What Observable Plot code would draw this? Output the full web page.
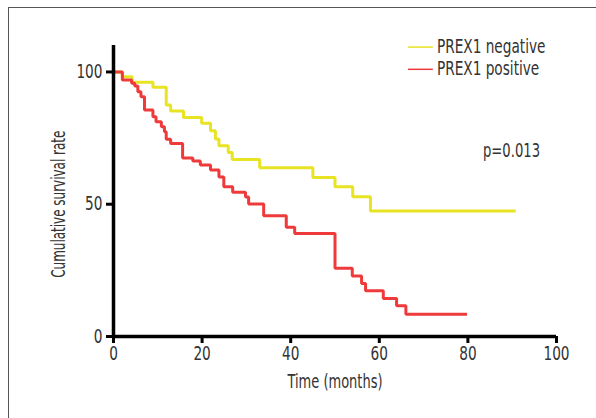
<!DOCTYPE html>
<html>
<head>
<meta charset="utf-8">
<script src="https://cdn.jsdelivr.net/npm/d3@7"></script>
<script src="https://cdn.jsdelivr.net/npm/@observablehq/plot@0.6"></script>
<style>
  html, body { margin: 0; padding: 0; background: #fff; }
  #wrap { position: relative; width: 596px; height: 418px; overflow: hidden; }
  #border { position: absolute; left: 8px; top: 7px; width: 700px; height: 600px;
            border-top: 1.5px solid #555; border-left: 1.5px solid #555; pointer-events: none; }
  svg { font-family: "Liberation Sans Narrow", "DejaVu Sans Condensed", "Roboto Condensed", sans-serif; font-stretch: condensed; }
</style>
</head>
<body>
<div id="wrap"><div id="border"></div></div>
<script>
// ---- data ----
const seriesNames = ["PREX1 negative", "PREX1 positive"];
const seriesColors = ["#e8e323", "#ee3a3a"];

const negTime = [0, 2, 4.2, 8.9, 11.9, 12.9, 15.8, 19.9, 21.9, 23.0, 23.8, 25.9, 26.8, 33.0, 45.0, 50.0, 54.0, 58.0, 90.8];
const negSurv = [100, 98.2, 96.1, 94.2, 87.5, 85.2, 82.8, 80.6, 77.8, 74.7, 72.1, 69.6, 66.9, 63.8, 60.1, 56.6, 52.8, 47.4, 47.4];

const posTime = [0, 2, 4.1, 4.8, 5.5, 6.2, 7.0, 8.9, 9.6, 10.8, 11.5, 11.9, 12.9, 15.6, 17.9, 19.6, 21.9, 23.8, 24.9, 26.9, 29.8, 30.5, 33.9, 39.0, 40.9, 50.0, 53.9, 56.0, 56.9, 60.9, 63.9, 66.0, 79.8];
const posSurv = [100, 97, 95.7, 94.7, 92.5, 90.6, 85.6, 83.1, 81.2, 79.3, 77.4, 74.6, 73.0, 67.5, 66.3, 64.8, 62.9, 60.3, 56.6, 54.5, 52.7, 50.1, 45.6, 41.3, 38.9, 25.8, 22.9, 20.0, 17.3, 14.4, 11.6, 8.4, 8.4];

const xTicks = [0, 20, 40, 60, 80, 100];
const yTicks = [0, 50, 100];
const pText = "p=0.013";
const xLabel = "Time (months)";
const yLabel = "Cumulative survival rate";

// ---- build table ----
const rows = [
  ...negTime.map((t, i) => ({series: seriesNames[0], t, s: negSurv[i]})),
  ...posTime.map((t, i) => ({series: seriesNames[1], t, s: posSurv[i]}))
];

// legend placement (data coordinates)
const legend = seriesNames.map((name, i) => ({name, color: seriesColors[i], y: [109.4, 101.0][i]}));

const FS = 19;
const chart = Plot.plot({
  width: 596,
  height: 418,
  marginLeft: 113,
  marginRight: 40,
  marginTop: 45,
  marginBottom: 82,
  style: {fontSize: FS + "px", color: "#333", background: "transparent"},
  x: {domain: [0, 100]},
  y: {domain: [0, 110]},
  marks: [
    Plot.axisX({ticks: xTicks, tickSize: 7, tickPadding: 3, strokeWidth: 3, stroke: "#000", fill: "#333", fontSize: FS,
                label: null, className: "cond80"}),
    Plot.axisY({ticks: yTicks, tickSize: 7, tickPadding: 4, strokeWidth: 3, stroke: "#000", fill: "#333", fontSize: FS,
                label: null, className: "cond80"}),
    Plot.line(rows, {x: "t", y: "s", z: "series", stroke: d => seriesColors[seriesNames.indexOf(d.series)],
                     curve: "step-after", strokeWidth: 3, strokeLinejoin: "miter", strokeLinecap: "butt"}),
    Plot.ruleY([0], {stroke: "#000", strokeWidth: 3.5}),
    Plot.ruleX([0], {stroke: "#000", strokeWidth: 3.5}),
    Plot.ruleY(legend, {y: "y", x1: 66.6, x2: 72.2, stroke: "color", strokeWidth: 1.5}),
    Plot.text(legend, {y: "y", x: 73.0, text: "name", textAnchor: "start", fill: "#333", fontSize: FS, className: "cond80"}),
    Plot.text([pText], {x: 83.4, y: 70.3, text: d => d, textAnchor: "start", fill: "#333", fontSize: FS, className: "cond77"}),
    Plot.text([xLabel], {x: 50, y: 0, dy: 45, text: d => d, fill: "#333", fontSize: FS, className: "cond76"}),
    Plot.text([yLabel], {x: 0, y: 50, dx: -55, rotate: -90, text: d => d, fill: "#333", fontSize: FS, className: "cond70"})
  ]
});
document.getElementById("wrap").prepend(chart);

// condense glyphs horizontally (the reference uses a condensed typeface)
const ratios = {cond80: 0.80, cond77: 0.77, cond76: 0.76, cond70: 0.70};
for (const [cls, r] of Object.entries(ratios)) {
  chart.querySelectorAll("." + cls + " text").forEach(t => {
    const len = t.getComputedTextLength();
    if (len > 0) {
      t.setAttribute("textLength", (len * r).toFixed(1));
      t.setAttribute("lengthAdjust", "spacingAndGlyphs");
    }
  });
}
</script>
</body>
</html>
